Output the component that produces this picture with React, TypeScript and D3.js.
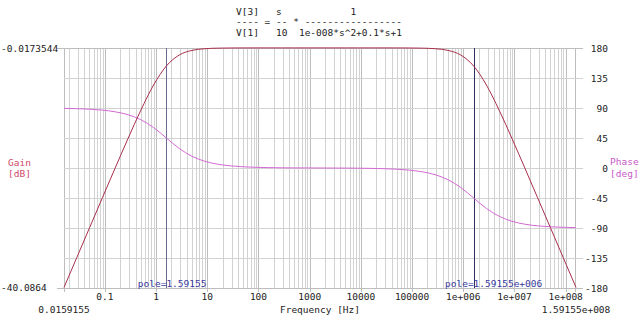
import React from "react";
import * as d3 from "d3";

const W = 640;
const H = 320;

// Sample frequencies [Hz] (quarter-decade steps across the plotted span)
const freqs = [
  1.59155e-2, 2.83026e-2, 5.03292e-2, 8.94994e-2,
  1.59155e-1, 2.83026e-1, 5.03292e-1, 8.94994e-1,
  1.59155e0, 2.83026e0, 5.03292e0, 8.94994e0,
  1.59155e1, 2.83026e1, 5.03292e1, 8.94994e1,
  1.59155e2, 2.83026e2, 5.03292e2, 8.94994e2,
  1.59155e3, 2.83026e3, 5.03292e3, 8.94994e3,
  1.59155e4, 2.83026e4, 5.03292e4, 8.94994e4,
  1.59155e5, 2.83026e5, 5.03292e5, 8.94994e5,
  1.59155e6, 2.83026e6, 5.03292e6, 8.94994e6,
  1.59155e7, 2.83026e7, 5.03292e7, 8.94994e7,
  1.59155e8,
];

// Gain [dB]
const gainDb = [
  -40.0, -35.001, -30.004, -25.014, -20.043, -15.135, -10.414, -6.193,
  -3.01, -1.193, -0.414, -0.135, -0.043, -0.014, -0.004, -0.001,
  0, 0, 0, 0, 0, 0, 0, 0, 0,
  -0.001, -0.004, -0.014, -0.043, -0.135, -0.414, -1.193, -3.01,
  -6.193, -10.414, -15.135, -20.043, -25.014, -30.004, -35.001, -40.0,
];

// Phase [deg]
const phaseDeg = [
  89.43, 88.98, 88.19, 86.78, 84.29, 79.92, 72.45, 60.65,
  45, 29.35, 17.55, 10.08, 5.71, 3.22, 1.81, 1.02,
  0.57, 0.31, 0.16, 0.07, 0,
  -0.07, -0.16, -0.31, -0.57, -1.02, -1.81, -3.22, -5.71,
  -10.08, -17.55, -29.35, -45, -60.65, -72.45, -79.92, -84.29,
  -86.78, -88.19, -88.98, -89.43,
];

const freqDomain = [0.0159155, 1.59155e8];
const gainDomain = [-40.0864, -0.0173544];
const phaseTicks = [-180, -135, -90, -45, 0, 45, 90, 135, 180];
const freqTickValues = [0.1, 1, 10, 100, 1000, 10000, 100000, 1e6, 1e7, 1e8];
const freqTickLabels = ["0.1", "1", "10", "100", "1000", "10000", "100000", "1e+006", "1e+007", "1e+008"];
const poles = [1.59155, 1.59155e6];
const poleLabels = ["pole=1.59155", "pole=1.59155e+006"];
const titleLines = [
  "V[3]   s            1",
  "---- = -- * -----------------",
  "V[1]   10  1e-008*s^2+0.1*s+1",
];

const FONT = "'DejaVu Sans Mono', 'Liberation Mono', monospace";
const FS = 9.5;

export default function App() {
  const left = 64, right = 576, top = 48, bottom = 288;
  const x = d3.scaleLog().domain(freqDomain).range([left, right]);
  const yG = d3.scaleLinear().domain(gainDomain).range([bottom, top]);
  const yP = d3.scaleLinear().domain([-180, 180]).range([bottom, top]);

  const minor: number[] = [];
  for (let e = -2; e <= 8; e++) {
    for (let m = 1; m <= 9; m++) {
      const v = m * Math.pow(10, e);
      if (v > freqDomain[0] && v < freqDomain[1]) minor.push(v);
    }
  }
  const decades = new Set(freqTickValues);

  const gainLine = d3
    .line<number>()
    .x((_, i) => x(freqs[i]))
    .y((d) => yG(d))
    .curve(d3.curveMonotoneX)(gainDb);
  const phaseLine = d3
    .line<number>()
    .x((_, i) => x(freqs[i]))
    .y((d) => yP(d))
    .curve(d3.curveMonotoneX)(phaseDeg);

  const gridColor = "#d2d2d2";
  const majorColor = "#bdbdbd";

  return (
    <svg
      width={W}
      height={H}
      style={{ position: "absolute", left: 0, top: 0, background: "#fff" }}
      fontFamily={FONT}
      fontSize={FS}
    >
      <rect x={0} y={0} width={W} height={H} fill="#fff" />
      {/* title */}
      {titleLines.map((t, i) => (
        <text key={i} x={236} y={14.5 + i * 10.8} fill="#222" style={{ whiteSpace: "pre" }} xmlSpace="preserve">
          {t}
        </text>
      ))}

      {/* vertical grid */}
      {minor.map((v, i) => (
        <line
          key={"v" + i}
          x1={Math.round(x(v)) + 0.5}
          x2={Math.round(x(v)) + 0.5}
          y1={top}
          y2={decades.has(v) ? bottom + 4 : bottom}
          stroke={decades.has(v) ? majorColor : gridColor}
          strokeWidth={1}
        />
      ))}
      <line x1={left + 0.5} x2={left + 0.5} y1={top} y2={bottom + 4} stroke={majorColor} />
      <line x1={right - 0.5} x2={right - 0.5} y1={top} y2={bottom + 4} stroke={majorColor} />

      {/* horizontal grid */}
      {phaseTicks.map((p, i) => (
        <line
          key={"h" + i}
          x1={p === -180 || p === 180 ? left - 7 : left}
          x2={right + 7}
          y1={Math.round(yP(p)) + 0.5}
          y2={Math.round(yP(p)) + 0.5}
          stroke={p === -180 || p === 180 ? majorColor : gridColor}
        />
      ))}

      {/* pole markers */}
      {poles.map((p, i) => (
        <line
          key={"p" + i}
          x1={Math.round(x(p)) + 0.5}
          x2={Math.round(x(p)) + 0.5}
          y1={top}
          y2={bottom}
          stroke={i === 0 ? "#6a6a90" : "#30305e"}
          strokeWidth={1}
        />
      ))}

      {/* curves */}
      <path d={phaseLine || ""} fill="none" stroke="#d46ad4" strokeWidth={1} />
      <path d={gainLine || ""} fill="none" stroke="#a8304e" strokeWidth={1} />

      {poles.map((p, i) => (
        <text key={"pl" + i} x={x(p) - 5 * 5.72} y={287} fill="#3a3aa0">
          {poleLabels[i]}
        </text>
      ))}

      {/* left gain axis */}
      <text x={1} y={51.5} fill="#222">{gainDomain[1].toString()}</text>
      <text x={1} y={291} fill="#222">{gainDomain[0].toString()}</text>
      <text x={8} y={166} fill="#d04a6a">Gain</text>
      <text x={8} y={177} fill="#d04a6a">[dB]</text>

      {/* right phase axis */}
      {phaseTicks.map((p, i) => (
        <text key={"pt" + i} x={608} y={yP(p) + 3.5} textAnchor="end" fill="#222">
          {p}
        </text>
      ))}
      <text x={610} y={165} fill="#c85ac8">Phase</text>
      <text x={610} y={177} fill="#c85ac8">[deg]</text>

      {/* bottom axis */}
      {freqTickValues.map((v, i) => (
        <text key={"ft" + i} x={x(v)} y={300} textAnchor="middle" fill="#222">
          {freqTickLabels[i]}
        </text>
      ))}
      <text x={left} y={313} textAnchor="middle" fill="#222">0.0159155</text>
      <text x={right} y={313} textAnchor="middle" fill="#222">1.59155e+008</text>
      <text x={320} y={313} textAnchor="middle" fill="#222">Frequency [Hz]</text>
    </svg>
  );
}
